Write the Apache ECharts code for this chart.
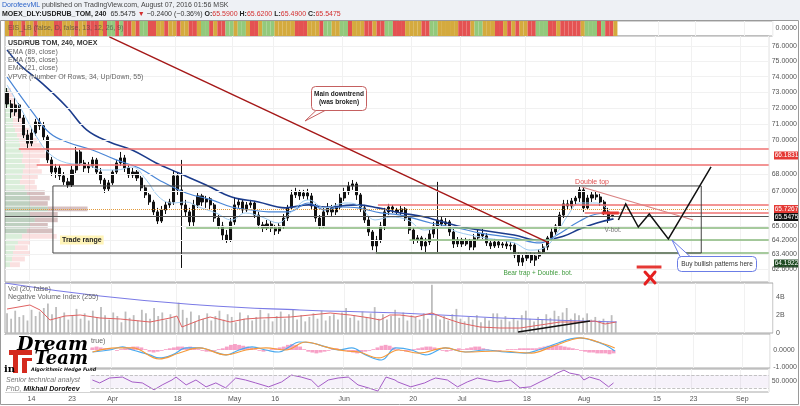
<!DOCTYPE html>
<html>
<head>
<meta charset="utf-8">
<script src="https://cdn.jsdelivr.net/npm/echarts@6/dist/echarts.min.js"></script>
<style>
html,body{margin:0;padding:0;background:#fff;}
#main{width:800px;height:406px;}
</style>
</head>
<body>
<div id="main"></div>
<script>
var FONT = '"Liberation Sans", Arial, sans-serif';

// x axis: bar slots (4h bars, future slots included) and date ticks
var slotCount = 188;
var xTickIdx = [6, 16, 26, 42, 56, 66, 83, 100, 112, 128, 142, 160, 169, 181];
var xTickText = ['14', '23', 'Apr', '18', 'May', '16', 'Jun', '20', 'Jul', '18', 'Aug', '15', '23', 'Sep'];

// price axis ticks (log scale)
var priceTicks = [76, 75, 74, 73, 72, 71, 70, 68, 67, 65, 64.2, 63.4, 62.6];
var priceMin = 61.90, priceMax = 76.66;

// candles: [open, close, low, high]
var candles = [
[73.01,72.26,72.01,73.27],[72.26,71.76,71.39,72.51],[71.76,72.20,71.52,72.64],[72.20,71.39,71.14,72.32],[71.39,70.34,70.15,71.58],
[70.34,69.84,69.55,70.65],[69.84,70.46,69.66,70.77],[70.46,71.14,70.28,71.33],[71.14,70.90,70.65,71.39],[70.90,70.22,70.03,71.14],
[70.22,68.83,68.65,70.34],[68.83,68.11,67.88,69.01],[68.11,68.35,67.76,68.59],[68.35,67.88,67.64,68.53],[67.88,67.53,67.35,68.11],
[67.53,67.35,67.18,67.76],[67.35,68.23,67.23,68.47],[68.23,69.31,68.05,69.61],[69.31,68.65,68.47,69.43],[68.65,68.35,68.11,68.83],
[68.35,68.47,68.05,68.71],[68.47,68.83,68.35,69.01],[68.83,68.11,67.94,68.95],[68.11,67.64,67.41,68.35],[67.64,67.12,66.88,67.76],
[67.12,67.47,66.94,67.64],[67.47,68.11,67.35,68.23],[68.11,68.65,67.94,68.83],[68.65,68.95,68.47,69.31],[68.95,68.35,68.11,69.13],
[68.35,67.94,67.76,68.53],[67.94,68.11,67.76,68.35],[68.11,67.76,67.58,68.23],[67.76,67.18,67.00,67.88],[67.18,66.77,66.59,67.35],
[66.77,66.36,66.19,66.88],[66.36,65.79,65.61,66.48],[65.79,65.27,65.10,66.02],[65.27,65.90,65.16,66.13],[65.90,66.19,65.67,66.36],
[66.19,66.36,66.02,66.54],[66.36,67.88,66.19,68.23],[67.88,67.06,66.77,68.11],[67.06,66.19,62.66,68.83],[66.19,65.79,65.50,66.48],
[65.79,65.22,64.93,66.02],[65.22,66.19,64.99,66.48],[66.19,66.71,66.02,66.88],[66.71,66.36,66.13,66.83],[66.36,66.54,66.02,66.71],
[66.54,66.19,65.90,66.65],[66.19,65.44,65.22,66.30],[65.44,64.99,64.82,65.61],[64.99,64.48,64.20,65.22],[64.48,64.20,64.04,64.76],
[64.20,65.22,64.09,65.44],[65.22,66.19,65.05,66.65],[66.19,66.36,66.02,66.59],[66.36,65.90,65.73,66.48],[65.90,66.19,65.79,66.36],
[66.19,66.30,66.02,66.48],[66.30,65.61,65.44,66.42],[65.61,65.05,64.88,65.79],[65.05,64.88,64.65,65.22],[64.88,65.10,64.76,65.33],
[65.10,64.88,64.65,65.27],[64.88,64.71,64.48,65.05],[64.71,64.99,64.54,65.16],[64.99,65.44,64.82,65.67],[65.44,66.02,65.27,66.19],
[66.02,66.77,65.90,67.06],[66.77,66.94,66.59,67.18],[66.94,66.71,66.48,67.06],[66.71,66.88,66.54,67.06],[66.88,66.71,66.48,67.12],
[66.71,66.13,65.96,66.88],[66.13,65.44,65.22,66.25],[65.44,64.99,64.82,65.61],[64.99,65.79,64.88,66.02],[65.79,66.02,65.61,66.30],
[66.02,65.79,65.56,66.19],[65.79,66.07,65.61,66.30],[66.07,66.59,65.90,66.83],[66.59,66.94,66.42,67.18],[66.94,67.29,66.77,67.53],
[67.29,67.41,67.06,67.64],[67.41,66.77,66.48,67.53],[66.77,66.02,65.79,66.88],[66.02,65.33,65.16,66.19],[65.33,64.65,64.43,65.50],
[64.65,63.87,63.64,64.76],[63.87,64.20,63.53,64.43],[64.20,64.99,64.04,65.22],[64.99,65.79,64.76,66.02],[65.79,66.07,65.61,66.25],
[66.07,65.90,65.73,66.19],[65.90,65.79,65.61,66.02],[65.79,65.96,65.61,66.13],[65.96,65.44,65.27,66.07],[65.44,64.76,64.54,65.56],
[64.76,64.20,63.98,64.88],[64.20,64.32,64.04,64.48],[64.32,63.87,63.64,64.43],[63.87,64.09,63.53,64.32],[64.09,64.54,63.92,64.76],
[64.54,64.99,64.32,65.22],[64.99,65.33,63.53,67.53],[65.33,65.10,64.93,65.50],[65.10,65.22,64.93,65.44],[65.22,64.65,64.43,65.33],
[64.65,63.98,63.76,64.82],[63.98,64.20,63.81,64.37],[64.20,63.98,63.81,64.32],[63.98,64.15,63.87,64.32],[64.15,63.81,63.64,64.26],
[63.81,64.32,63.64,64.54],[64.32,64.54,64.20,64.76],[64.54,64.43,64.26,64.82],[64.43,64.04,63.87,64.59],[64.04,63.87,63.70,64.20],
[63.87,64.09,63.76,64.26],[64.09,63.92,63.76,64.20],[63.92,63.98,63.76,64.09],[63.98,63.87,63.70,64.15],[63.87,63.92,63.64,64.09],
[63.92,63.37,63.20,64.04],[63.37,62.98,62.77,63.53],[62.98,63.20,62.77,63.42],[63.20,63.37,63.04,63.53],[63.37,63.09,62.93,63.53],
[63.09,63.31,62.77,63.48],[63.31,63.53,63.15,63.70],[63.53,63.81,63.37,63.98],[63.81,64.32,63.64,64.43],[64.32,64.65,64.15,64.88],
[64.65,64.99,64.48,65.10],[64.99,65.61,64.88,65.79],[65.61,66.25,65.44,66.48],[66.25,66.13,65.90,66.48],[66.13,66.42,65.96,66.59],
[66.42,66.59,66.19,66.71],[66.59,67.06,66.36,67.23],[67.06,66.02,65.79,67.18],[66.02,66.59,65.90,66.77],[66.59,66.77,66.36,66.94],
[66.77,66.65,66.48,67.00],[66.65,66.36,66.13,66.83],[66.36,65.79,65.61,66.48],[65.79,65.33,65.16,66.02],[65.59,65.5475,65.49,65.62]
];

// EMAs, sampled: [bar index, price]
var ema89 = [[0,75.74],[3.2,74.75],[8.8,73.53],[14.7,72.07],[19.6,70.65],[25.2,69.91],[30.8,69.43],[36.7,68.65],[42.3,68.05],[49,67.35],
  [55.3,66.65],[61.9,66.36],[68.5,66.02],[74.2,66.19],[78.3,66.07],[86.4,66.19],[91.3,66.02],[96.9,65.73],[102.8,65.50],[110.9,64.99],
  [116.5,64.76],[124.8,64.48],[131.2,64.17],[137.1,64.43],[141,64.82],[145.2,65.16],[149.3,65.39]];
var ema55 = [[0,73.98],[6.4,71.70],[10.5,70.46],[14.7,69.91],[21,69.43],[26.9,68.83],[32.5,68.35],[37.4,67.64],[44.1,66.88],[50.4,66.48],
  [55.3,66.07],[60.2,65.90],[64.4,65.79],[69.3,65.79],[74.2,66.30],[78.3,65.90],[82.2,66.07],[86.4,66.02],[92,65.73],[96.9,65.61],
  [104.3,65.16],[110.9,64.88],[116.5,64.59],[124.8,64.32],[131.2,64.04],[135.4,64.48],[141,65.27],[145.2,65.67],[149.3,65.73]];
var ema21 = [[0,73.47],[3.2,72.07],[7.3,70.22],[10.5,69.19],[14.7,68.65],[19.6,68.53],[23.5,68.23],[26.9,68.23],[30.8,68.41],[34.3,67.64],
  [37.4,66.65],[40.6,66.30],[44.1,66.36],[47.2,66.07],[51.4,65.73],[55.3,65.33],[58.7,65.73],[62.7,65.50],[66.8,65.16],[70,65.79],
  [74.2,66.48],[78.3,66.02],[83.2,66.30],[86.4,66.19],[90.6,65.33],[94.5,65.50],[98.6,65.33],[102.8,64.76],[107.7,64.93],[110.9,64.65],
  [116.5,64.37],[124.8,64.04],[128.8,63.64],[132.2,63.76],[135.4,64.59],[137.8,65.50],[141,66.30],[145.2,66.30],[148.4,65.79]];

// drawn levels: [price, start bar]
var redLevels = [[69.49, 2.9], [68.53, 7.3], [66.1831, 91.3], [65.7267, 142.2]];
var greenLevels = [[64.90, 44.1], [64.1922, 99.1], [63.48, 90.8]];
var pocLevel = 65.93;
var lastPrice = 65.5475;
var tradeBox = [[11.3, 67.29], [170.9, 67.29], [170.9, 63.48], [11.3, 63.48], [11.3, 67.29]];
var mainTrend = [[25.2, 76.60], [133.4, 64.04]];
var topTrend = [[141.5, 67.23], [168.9, 65.33]];
var projection = [[150.5, 65.33], [152.3, 66.25], [155.4, 64.93], [158.1, 65.67], [162.8, 64.26], [173.3, 68.41]];
var stopLine = [[155, 62.71], [161.1, 62.71]];
var resistMark = [[146.4, 65.7267], [150.6, 65.7267]];

// volume profile (34 rows from the top price down), up / down volume
var vpTop = 73.27, vpStep = 0.312;
var vpUp = [3,4,4,5,6,7,8,8,10,12,14,15,16,18,17,20,18,17,15,20,22,25,25,43,25,30,25,22,17,13,10,8,7,5];
var vpDown = [3,4,5,6,8,9,10,12,14,16,18,22,24,26,18,13,19,16,15,12,18,20,18,40,28,23,18,26,35,12,13,17,13,10];

// impulse system colours per bar (O gold, R red, G green)
var eisCodes = 'OROOROOROOOORROOOROORRROR' + 'GGRGRRORGGRROOROOROORROGG' + 'RORRGGOGGORROGGGOOOOORRRO' +
  'OORGGOOGGROOORRORRGGRRROO' + 'OORRGGOOOOORRROGGOOORRORO' + 'ROORRGGGRRORRRRROGGGRGRRO';

// volume in billions
var volume = [2.2,1.6,2.5,1.8,2.0,1.4,2.6,1.9,2.4,2.8, 3.3,2.1,2.9,1.7,2.3,1.5,2.0,2.7,1.6,2.2,
  1.4,2.5,1.8,2.9,2.0,1.5,2.3,1.9,1.2,2.4, 1.7,2.0,1.4,2.6,2.2,1.6,2.8,1.9,2.3,1.5,
  2.1,1.8,3.4,2.6,1.7,2.4,1.3,2.0,1.6,2.2, 1.4,1.9,2.5,1.5,2.1,1.8,1.2,2.3,1.6,2.0,
  1.4,1.8,2.6,1.5,2.2,1.3,1.9,2.4,1.6,2.1, 2.7,1.5,2.0,1.3,1.8,2.2,1.6,2.5,1.4,1.9,
  2.1,1.5,2.3,2.8,1.7,2.0,1.4,2.4,1.8,2.2, 2.9,1.6,2.1,1.5,1.9,2.6,1.7,2.3,1.4,2.0,
  1.8,1.5,2.2,1.6,5.4,2.0,1.5,1.9,1.4,2.1, 2.7,1.6,1.3,1.8,1.5,2.0,1.2,1.7,1.4,2.2,
  2.2,1.5,1.9,1.3,1.7,1.4,2.0,2.5,1.6,1.3, 1.8,1.5,2.1,1.7,2.5,1.9,2.3,2.8,1.6,2.2,
  2.0,1.7,2.2,1.5,1.8,1.4,1.6,1.3,2.0,1.2];
var nvi = [[0,48],[5.6,56],[8.1,46],[10.5,26],[14.2,34],[17.9,36],[22.8,30],[27.7,28],[35,22],[39.9,30],[41.6,34],[42.8,12],
  [47.2,26],[49.7,32],[54.6,22],[58.3,28],[61.9,30],[69.3,32],[74.2,36],[79.1,40],[84,36],[88.9,30],[91.3,26],[93.7,36],
  [96.2,36],[99.9,32],[104,40],[107.2,30],[110.9,20],[115.8,12],[120.7,10],[125.6,10],[130.5,16],[135.4,22],[140.3,22],
  [143.9,24],[146.4,18],[149.1,22]];
var nviAvg = [[-0.5,100],[22.8,74],[47.2,56],[71.7,46],[96.2,40],[120.7,30],[149.3,22]];
var nviArrow = [[125.1, 2], [142.7, 24]];

// oscillator panel
var macdLine = [[21,-0.12],[25.2,0],[28.4,0.18],[30.8,0],[35,-0.29],[37.4,-0.47],[40.6,-0.29],[44.1,0.12],[47.2,0.12],[49.7,0],
  [53.8,-0.29],[57,0],[60.2,0.18],[63.6,0],[66.8,-0.12],[69.3,0.18],[71.7,0.47],[74.9,0.41],[78.3,0.18],[81.5,0],[84.7,0.12],
  [88.1,-0.29],[92,-0.59],[95.5,0.12],[99.4,0],[102.8,-0.29],[107.7,0.12],[112.6,-0.12],[117.5,0],[122.4,-0.12],[127.3,-0.18],
  [130.5,0],[135.4,0.41],[138.5,0.65],[140.7,0.71],[143.4,0.59],[146.9,0.29],[149.3,-0.06]];
var signalLine = [[21,-0.12],[27,0.12],[30.8,0.12],[37.4,-0.53],[42.3,-0.18],[47.2,0.12],[53.8,-0.29],[58.7,0],[63.6,0.12],
  [68.5,0],[73.4,0.47],[78.3,0.18],[83.2,-0.06],[86.4,-0.12],[91.3,-0.47],[96.2,0],[101.1,-0.18],[107.7,0.12],[112.6,-0.12],
  [120.7,-0.06],[128.8,-0.18],[133.7,0.18],[138.5,0.59],[141,0.71],[145.2,0.47],[149.3,0.12]];
var histogram = [0.05,0.1,0.15,0.1,0.05,-0.05,-0.1,-0.1,-0.05,0.05,0.1,0.1,0.05,-0.05,-0.1,-0.15,-0.1,-0.05,0.05,0.1,
  0.1,0.15,0.2,0.15,0.1,0.05,0,-0.05,0.05,0.1,0.15,0.2,0.2,0.15,0.05,-0.1,-0.15,-0.1,-0.05,0.05,
  0.1,0.15,0.2,0.2,0.15,0.2,0.15,0.05,-0.05,-0.1,-0.1,-0.05,0.05,0.1,0.2,0.3,0.35,0.3,0.25,0.2,
  0.15,0.05,-0.05,-0.1,-0.05,0.05,0.1,0.15,0.2,0.3,0.35,0.3,0.2,0.05,-0.1,-0.15,-0.2,-0.15,-0.1,-0.05,
  0.05,0.1,0.05,-0.05,-0.1,-0.15,-0.2,-0.15,-0.1,-0.05,0.05,0.15,0.25,0.3,0.25,0.15,0.05,-0.05,-0.1,-0.05,
  0.05,0.1,0.15,0.2,0.2,0.15,0.05,-0.05,-0.1,-0.05,0.05,0.1,0.05,0.1,0.15,0.2,0.2,0.1,0.05,0,
  -0.05,-0.05,0,0.05,0.05,0.05,0.1,0.1,0.1,0.1,0.1,0.15,0.2,0.25,0.3,0.3,0.25,0.2,0.15,0.1,
  0.05,-0.05,-0.1,-0.15,-0.15,-0.2,-0.2,-0.2,-0.25,-0.2];
var rsi = [[21,54.6],[22.8,45.4],[25.2,60.8],[28.4,63.8],[30.8,48.5],[33.3,45.4],[36.2,23.8],[38.2,39.2],[40.6,54.6],[41.6,63.8],
  [44.1,39.2],[46.5,54.6],[49,33.1],[51.4,45.4],[53.8,30],[56.3,60.8],[58.7,54.6],[61.2,45.4],[64.4,33.1],[67.6,48.5],[70,70],
  [72.4,63.8],[74.9,54.6],[76.6,33.1],[79.1,54.6],[81.5,60.8],[84,63.8],[86.4,39.2],[88.9,30],[91.3,20],[93.3,63.8],[95.5,54.6],
  [96.2,48.5],[99.4,33.1],[102.8,45.4],[104.3,54.6],[105.5,60.8],[108.4,54.6],[110.9,33.1],[113.3,48.5],[115.8,60.8],[118.2,54.6],
  [120.7,48.5],[123.9,54.6],[126.3,30],[128.8,33.1],[131.2,48.5],[133.7,63.8],[135.4,76.2],[137.1,85.4],[138.5,76.2],[141,70],
  [142,54.6],[143.4,63.8],[145.9,54.6],[148.1,33.1],[149.3,45.4]];

// ---------- build
var L = Math.log;
var cats = [];
for (var i = 0; i < slotCount; i++) {
  var k = xTickIdx.indexOf(i);
  cats.push(k >= 0 ? xTickText[k] : '');
}
var isTick = function (i) { return xTickIdx.indexOf(i) >= 0; };
var logPts = function (arr) { return arr.map(function (p) { return [p[0], L(p[1])]; }); };
var right = slotCount - 0.5;
var eisColor = { O: '#d4aa3e', R: '#e45252', G: '#93c97c' };

var grids = [
  { left: 5, top: 21, width: 768, height: 15 },
  { left: 5, top: 36, width: 768, height: 246 },
  { left: 5, top: 283, width: 768, height: 50 },
  { left: 5, top: 334, width: 768, height: 34 },
  { left: 5, top: 369, width: 768, height: 23 }
].map(function (g) {
  g.show = true; g.borderColor = '#a8a8a8'; g.borderWidth = 1; g.backgroundColor = '#fff';
  return g;
});

function catAxis(gi, showLabels) {
  return {
    type: 'category', gridIndex: gi, data: cats, boundaryGap: true,
    axisLine: { show: false }, axisTick: { show: false },
    axisLabel: { show: showLabels, interval: function (i) { return isTick(i); }, color: '#555', fontSize: 7, fontFamily: FONT, margin: 4 },
    splitLine: { show: true, interval: function (i) { return isTick(i); }, lineStyle: { color: '#f1f1f1', width: 1 } }
  };
}
function overlayAxis(gi) {
  return { type: 'value', gridIndex: gi, min: -0.5, max: right, show: false };
}
function labelAxis(gi, min, max, ticks, fmt, extra) {
  var a = {
    type: 'value', gridIndex: gi, position: 'right', min: min, max: max,
    axisLine: { show: false }, splitLine: { show: false },
    axisTick: { show: false, customValues: ticks },
    axisLabel: { show: true, customValues: ticks, formatter: fmt, color: '#555', fontSize: 7, fontFamily: FONT, margin: 3 }
  };
  for (var key in extra) a[key] = extra[key];
  return a;
}

var xAxes = [catAxis(0, false), catAxis(1, false), catAxis(2, false), catAxis(3, false), catAxis(4, true),
  overlayAxis(1), overlayAxis(2), overlayAxis(3), overlayAxis(4),
  { type: 'value', gridIndex: 1, min: 0, max: 768, show: false }];

var yAxes = [
  labelAxis(0, 0, 1, [0.5], function () { return '0.0000'; }),
  labelAxis(1, L(priceMin), L(priceMax), priceTicks.map(L), function (v) { return Math.exp(v).toFixed(4); }),
  labelAxis(2, 0, 5.6, [0, 2, 4], function (v) { return v === 0 ? '0' : v + 'B'; }),
  { type: 'value', gridIndex: 2, min: 0, max: 100, show: false },
  labelAxis(3, -1.06, 0.94, [0, -1], function (v) { return v.toFixed(4); }),
  labelAxis(4, 17, 89, [50], function (v) { return v.toFixed(4); })
];

function segLines(name, list, color, width, type, z) {
  return {
    type: 'lines', name: name, coordinateSystem: 'cartesian2d', xAxisIndex: 5, yAxisIndex: 1, z: z || 5,
    silent: true, symbol: 'none',
    lineStyle: { color: color, width: width, type: type || 'solid', opacity: 1 },
    data: list.map(function (lv) { return { coords: [[lv[1], L(lv[0])], [right, L(lv[0])]] }; })
  };
}
function pathLines(coords, color, width, sym, symSize, xi, yi, logY) {
  return {
    type: 'lines', coordinateSystem: 'cartesian2d', xAxisIndex: xi, yAxisIndex: yi, polyline: true, silent: true, z: 6,
    symbol: sym || 'none', symbolSize: symSize || 6,
    lineStyle: { color: color, width: width, opacity: 1 },
    data: [{ coords: logY ? logPts(coords) : coords }]
  };
}
function emaLine(data, color, width) {
  return {
    type: 'line', xAxisIndex: 5, yAxisIndex: 1, data: logPts(data), smooth: 0.4, showSymbol: false, silent: true, z: 4,
    lineStyle: { color: color, width: width }
  };
}

var series = [
  // impulse strip
  { type: 'bar', xAxisIndex: 0, yAxisIndex: 0, barCategoryGap: '0%', silent: true,
    data: eisCodes.split('').map(function (c) { return { value: 1, itemStyle: { color: eisColor[c] } }; }) },
  // gridlines for price ticks
  segLines('grid', priceTicks.map(function (p) { return [p, -0.5]; }), '#f1f1f1', 1, 'solid', 0),
  // volume profile
  { type: 'custom', xAxisIndex: 9, yAxisIndex: 1, z: 1, silent: true,
    data: vpUp.map(function (u, r) { var hi = vpTop - r * vpStep; return [L(hi), L(hi - vpStep), u, vpDown[r]]; }),
    encode: { x: [2, 3], y: [0, 1] },
    renderItem: function (params, api) {
      var a = api.coord([0, api.value(0)]);
      var b = api.coord([api.value(2), api.value(1)]);
      var c = api.coord([api.value(2) + api.value(3), api.value(1)]);
      var va = params.dataIndex >= 20 && params.dataIndex <= 27;
      var h = Math.max(1, b[1] - a[1] - 0.8);
      return { type: 'group', children: [
        { type: 'rect', shape: { x: a[0], y: a[1], width: b[0] - a[0], height: h }, style: { fill: va ? 'rgba(110,150,115,0.45)' : 'rgba(150,205,150,0.35)' } },
        { type: 'rect', shape: { x: b[0], y: a[1], width: c[0] - b[0], height: h }, style: { fill: va ? 'rgba(165,115,115,0.45)' : 'rgba(240,165,165,0.35)' } }
      ] };
    } },
  // candles
  { type: 'candlestick', xAxisIndex: 1, yAxisIndex: 1, z: 3, barWidth: 2.6, silent: true,
    data: candles.map(function (d) { return d.map(L); }),
    itemStyle: { color: '#111111', color0: '#111111', borderColor: '#111111', borderColor0: '#111111', borderWidth: 1 } },
  emaLine(ema89, '#1c3c8c', 1.6),
  emaLine(ema55, '#4a86d6', 1.2),
  emaLine(ema21, '#9dcaf0', 1),
  // levels
  segLines('red', redLevels, '#ef7272', 1.6),
  segLines('green', greenLevels, '#88b87c', 1.6),
  segLines('poc', [[pocLevel, -0.5]], '#e39a3a', 1, 'dotted'),
  segLines('last', [[lastPrice, -0.5]], '#555555', 1),
  pathLines(tradeBox, '#444444', 1, 'none', 0, 5, 1, true),
  pathLines(mainTrend, '#a51818', 1.5, ['none', 'arrow'], 6, 5, 1, true),
  pathLines(topTrend, '#d98282', 1.2, 'none', 0, 5, 1, true),
  pathLines(projection, '#111111', 1.5, ['none', 'arrow'], 8, 5, 1, true),
  pathLines(stopLine, '#e53935', 3, 'none', 0, 5, 1, true),
  pathLines(resistMark, '#e53935', 3, 'none', 0, 5, 1, true),
  // volume
  { type: 'bar', xAxisIndex: 2, yAxisIndex: 2, data: volume, barWidth: 1.8, silent: true, itemStyle: { color: '#bdbdbd' } },
  { type: 'line', xAxisIndex: 6, yAxisIndex: 3, data: nviAvg, smooth: 0.5, showSymbol: false, silent: true, lineStyle: { color: '#7b7be6', width: 1.2 } },
  { type: 'line', xAxisIndex: 6, yAxisIndex: 3, data: nvi, showSymbol: false, silent: true, lineStyle: { color: '#e06262', width: 1 } },
  pathLines(nviArrow, '#111111', 1.3, ['none', 'arrow'], 6, 6, 3, false),
  // oscillator
  { type: 'bar', xAxisIndex: 3, yAxisIndex: 4, data: histogram, barCategoryGap: '5%', silent: true, itemStyle: { color: 'rgba(244,130,180,0.75)' } },
  { type: 'line', xAxisIndex: 7, yAxisIndex: 4, data: macdLine, smooth: 0.4, showSymbol: false, silent: true, lineStyle: { color: '#4aaaf0', width: 1.2 } },
  { type: 'line', xAxisIndex: 7, yAxisIndex: 4, data: signalLine, smooth: 0.4, showSymbol: false, silent: true, lineStyle: { color: '#f59a3a', width: 1.2 } },
  // rsi
  { type: 'line', xAxisIndex: 8, yAxisIndex: 5, data: rsi, showSymbol: false, silent: true, lineStyle: { color: '#a45cc6', width: 1 },
    markArea: { silent: true, itemStyle: { color: 'rgba(150,110,200,0.09)' }, data: [[{ yAxis: 30 }, { yAxis: 70 }]] },
    markLine: { silent: true, symbol: 'none', label: { show: false }, lineStyle: { color: '#b5b5b5', type: 'dashed', width: 0.8 },
      data: [{ yAxis: 30 }, { yAxis: 70 }] } }
];

function txt(x, y, s, o) {
  var st = { text: s, x: x, y: y, fill: '#555', fontSize: 7, fontFamily: FONT, verticalAlign: 'middle' };
  for (var k in o) st[k] = o[k];
  return { type: 'text', z: 100, style: st };
}
function tag(y, s, bg) {
  return { type: 'group', z: 100, children: [
    { type: 'rect', shape: { x: 774, y: y, width: 25, height: 8 }, style: { fill: bg } },
    { type: 'text', style: { text: s, x: 786.5, y: y + 4.2, fill: '#fff', fontSize: 6.5, fontFamily: FONT, align: 'center', verticalAlign: 'middle' } }
  ] };
}
var red = '#d32f2f';
var graphic = [
  { type: 'rect', z: -10, shape: { x: 0, y: 0, width: 800, height: 20 }, style: { fill: '#eef1f5' } },
  txt(2, 5, '{b|DorofeevML}{n| published on TradingView.com, August 07, 2016 01:56 MSK}', { rich: {
    b: { fill: '#2a62c9', fontSize: 7, fontFamily: FONT }, n: { fill: '#444', fontSize: 7, fontFamily: FONT } } }),
  txt(2, 14, '{k|MOEX_DLY:USDRUB_TOM, 240}{n|  65.5475 }{r|▼}{n| −0.2400 (−0.36%) }{k|O:}{r|65.5900}{k| H:}{r|65.6200}{k| L:}{r|65.4900}{k| C:}{r|65.5475}', { rich: {
    k: { fill: '#222', fontSize: 7, fontWeight: 'bold', fontFamily: FONT },
    n: { fill: '#333', fontSize: 7, fontFamily: FONT },
    r: { fill: red, fontSize: 7, fontFamily: FONT } } }),
  txt(8, 28.5, 'EIS_LB (false, D, false, 13, 12, 26, 9)', { fill: 'rgba(70,70,70,0.7)' }),
  txt(8, 43, 'USD/RUB TOM, 240, MOEX', { fill: '#333', fontWeight: 'bold' }),
  txt(8, 52, 'EMA (89, close)', { fill: '#666' }),
  txt(8, 60, 'EMA (55, close)', { fill: '#666' }),
  txt(8, 68, 'EMA (21, close)', { fill: '#666' }),
  txt(8, 77, 'VPVR (Number Of Rows, 34, Up/Down, 55)', { fill: '#666' }),
  txt(8, 289, 'Vol (20, false)', { fill: '#666' }),
  txt(8, 297, 'Negative Volume Index (255)', { fill: '#666' }),
  // trade range label
  txt(60, 240, 'Trade range', { fill: '#222', fontWeight: 'bold', backgroundColor: '#fff4b8', padding: [1, 2] }),
  // downtrend callout
  { type: 'polygon', z: 99, shape: { points: [[316, 110.5], [325, 110.5], [305, 121]] }, style: { fill: '#fff', stroke: '#c56060', lineWidth: 1 } },
  { type: 'rect', z: 100, shape: { x: 311.5, y: 86.5, width: 55, height: 24, r: 4 }, style: { fill: '#fff', stroke: '#c56060', lineWidth: 1 } },
  txt(339, 94, 'Main downtrend', { fill: '#222', fontWeight: 'bold', fontSize: 6.5, align: 'center' }),
  txt(339, 102, '(was broken)', { fill: '#222', fontWeight: 'bold', fontSize: 6.5, align: 'center' }),
  // pattern notes
  txt(592, 182, 'Double top', { fill: '#e05050', align: 'center' }),
  txt(613, 230, 'V-bot.', { fill: '#777', fontSize: 6.5, align: 'center' }),
  txt(538, 273, 'Bear trap + Double. bot.', { fill: '#3f9a3c', fontSize: 6.5, align: 'center' }),
  // buy callout
  { type: 'polygon', z: 99, shape: { points: [[680, 256.5], [690, 256.5], [672, 240]] }, style: { fill: '#fff', stroke: '#6b7de6', lineWidth: 1 } },
  { type: 'rect', z: 100, shape: { x: 677.5, y: 256.5, width: 79, height: 15, r: 4 }, style: { fill: '#fff', stroke: '#6b7de6', lineWidth: 1 } },
  txt(717, 264, 'Buy bullish patterns here', { fill: '#333', fontSize: 6.5, align: 'center' }),
  // red cross
  { type: 'line', z: 100, shape: { x1: 645, y1: 272, x2: 655, y2: 283 }, style: { stroke: '#e52020', lineWidth: 3, lineCap: 'round' } },
  { type: 'line', z: 100, shape: { x1: 655, y1: 272, x2: 645, y2: 284 }, style: { stroke: '#e52020', lineWidth: 3, lineCap: 'round' } },
  // price tags
  tag(151.5, '66.1831', '#e53935'),
  tag(205, '65.7267', '#e53935'),
  tag(213, '65.5475', '#111111'),
  tag(259.5, '64.1922', '#1e4a22'),
  txt(91, 341, 'true)', { fill: '#666' }),
  // logo block
  { type: 'rect', z: 110, shape: { x: 0, y: 335, width: 90, height: 57 }, style: { fill: '#fff' } },
  { type: 'text', z: 111, style: { text: 'Dream', x: 88, y: 345, align: 'right', verticalAlign: 'middle', fill: '#000', font: 'italic bold 19px "DejaVu Serif", serif' } },
  { type: 'text', z: 111, style: { text: 'Team', x: 88, y: 359, align: 'right', verticalAlign: 'middle', fill: '#000', font: 'italic bold 18px "DejaVu Serif", serif' } },
  { type: 'rect', z: 111, shape: { x: 9, y: 350, width: 23, height: 5 }, style: { fill: '#d42a1e' } },
  { type: 'rect', z: 111, shape: { x: 13, y: 355, width: 5, height: 18 }, style: { fill: '#d42a1e' } },
  { type: 'rect', z: 111, shape: { x: 22, y: 358, width: 5, height: 15 }, style: { fill: '#d42a1e' } },
  { type: 'rect', z: 111, shape: { x: 22, y: 358, width: 10, height: 3 }, style: { fill: '#d42a1e' } },
  { type: 'text', z: 111, style: { text: 'in', x: 4, y: 369, verticalAlign: 'middle', fill: '#000', font: 'bold 10px "DejaVu Serif", serif' } },
  { type: 'text', z: 111, style: { text: 'Algorithmic Hedge Fund', x: 31, y: 370, verticalAlign: 'middle', fill: '#111', font: 'italic bold 4.8px "DejaVu Sans", sans-serif' } },
  { type: 'text', z: 111, style: { text: 'Senior technical analyst', x: 6, y: 380, verticalAlign: 'middle', fill: '#777', font: 'italic 7px "Liberation Sans", sans-serif' } },
  { type: 'text', z: 111, style: { text: '{a|PhD, }{b|Mikhail Dorofeev}', x: 6, y: 389, verticalAlign: 'middle',
    rich: { a: { fill: '#777', fontSize: 7, fontStyle: 'italic', fontFamily: FONT }, b: { fill: '#111', fontSize: 7, fontStyle: 'italic', fontWeight: 'bold', fontFamily: FONT } } } },
  // outer frame
  { type: 'rect', z: 120, shape: { x: 0.5, y: 20.5, width: 798, height: 384 }, style: { fill: 'none', stroke: '#9a9a9a', lineWidth: 1 } }
];

var chart = echarts.init(document.getElementById('main'), null, { renderer: 'canvas' });
chart.setOption({
  animation: false,
  backgroundColor: '#ffffff',
  grid: grids,
  xAxis: xAxes,
  yAxis: yAxes,
  series: series,
  graphic: graphic
});
</script>
</body>
</html>
